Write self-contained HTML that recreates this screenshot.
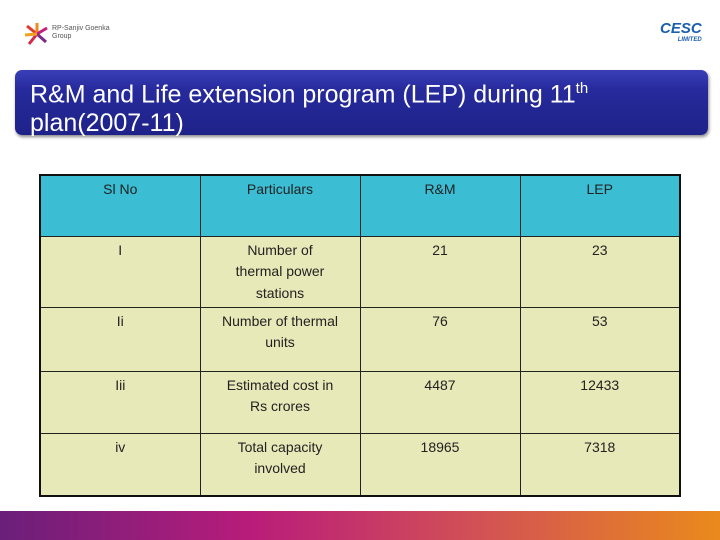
<!DOCTYPE html>
<html><head><meta charset="utf-8"><style>
body{margin:0;width:720px;height:540px;background:#fff;position:relative;overflow:hidden;font-family:"Liberation Sans",sans-serif}
.abs{position:absolute}
#title{left:15px;top:70px;width:693px;height:65px;border-radius:7px;background:linear-gradient(#3a3fb8,#262a9c 30%,#1e2288);box-shadow:1px 2px 3px #888;color:#fff;font-size:25px;line-height:29px;padding:4px 0 0 15px;box-sizing:border-box}
table{position:absolute;left:39px;top:174px;border-collapse:collapse;border:2px solid #111;table-layout:fixed;width:642px}
td{border:1px solid #222;width:160px;vertical-align:top;text-align:center;font-size:14px;line-height:21.5px;color:#222;padding:3px 4px 0;box-sizing:border-box;background:#e8e9b8}
tr.h td{background:#3bbdd3}
#bar{left:0;top:511px;width:720px;height:29px;background:linear-gradient(90deg,#6a1f7a,#b91c7a 35%,#d14f57 65%,#ea8a1c)}
</style></head><body>
<div class="abs" style="left:24px;top:22px;width:100px;height:24px">
<svg width="26" height="24" viewBox="0 0 26 24"><g stroke-width="3"><line x1="13" y1="12" x2="3" y2="4" stroke="#e23a2a"/><line x1="13" y1="12" x2="13" y2="1" stroke="#f08a1c"/><line x1="13" y1="12" x2="23" y2="6" stroke="#c4207a"/><line x1="13" y1="12" x2="22" y2="20" stroke="#7a2a8a"/><line x1="13" y1="12" x2="5" y2="22" stroke="#d12a4a"/><line x1="13" y1="12" x2="1" y2="13" stroke="#f0a020"/></g></svg>
<span class="abs" style="left:28px;top:3px;font-size:7px;color:#555;line-height:8px">RP-Sanjiv Goenka<br>Group</span></div>
<div class="abs" style="left:660px;top:20px;color:#1b5fb0;font-style:italic;font-weight:bold;font-size:15px">CESC<div style="font-size:6px;text-align:right">LIMITED</div></div>
<div id="title" class="abs">R&amp;M and Life extension program (LEP) during 11<sup style="font-size:15px">th</sup><br>plan(2007-11)</div>
<table>
<tr class="h" style="height:61px"><td>Sl No</td><td>Particulars</td><td>R&amp;M</td><td>LEP</td></tr>
<tr style="height:71px"><td>I</td><td>Number of<br>thermal power<br>stations</td><td>21</td><td>23</td></tr>
<tr style="height:64px"><td>Ii</td><td>Number of thermal<br>units</td><td>76</td><td>53</td></tr>
<tr style="height:62px"><td>Iii</td><td>Estimated cost in<br>Rs crores</td><td>4487</td><td>12433</td></tr>
<tr style="height:63px"><td>iv</td><td>Total capacity<br>involved</td><td>18965</td><td>7318</td></tr>
</table>
<div id="bar" class="abs"></div>
</body></html>
